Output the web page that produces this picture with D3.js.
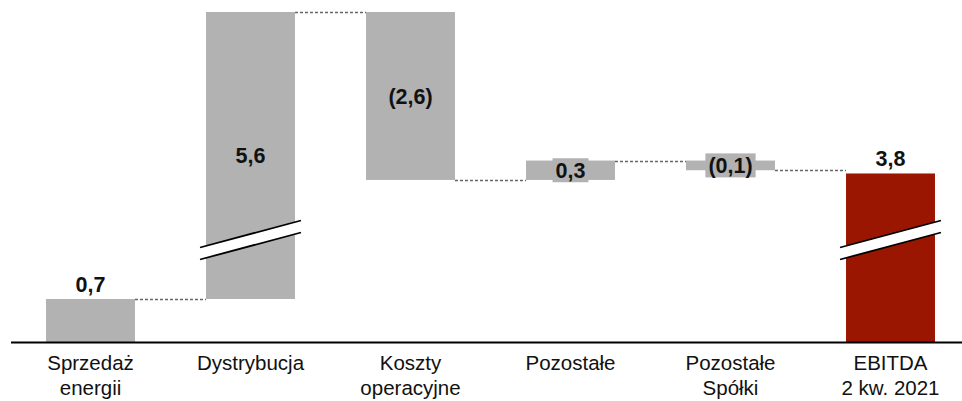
<!DOCTYPE html>
<html>
<head>
<meta charset="utf-8">
<script src="https://cdn.jsdelivr.net/npm/d3@7"></script>
<style>
	body { margin: 0; background: #fff; }
	svg { display: block; font-family: Arial, "Liberation Sans", sans-serif; }
</style>
</head>
<body>
<div id="graphic"></div>
<script>
// chart data
const categories = [["Sprzedaż", "energii"], ["Dystrybucja"], ["Koszty", "operacyjne"], ["Pozostałe"], ["Pozostałe", "Spółki"], ["EBITDA", "2 kw. 2021"]];
const values = [0.7, 5.6, -2.6, 0.3, -0.15, 3.8];
const kinds = ["base", "delta", "delta", "delta", "delta", "total"];
const breaks = [false, true, false, false, false, true];

const width = 962, height = 401;
const axisY = 342;
const grey = "#b2b2b2", red = "#9b1600";

const locale = d3.formatLocale({ decimal: ",", thousands: " ", grouping: [3], currency: ["", ""] });
const f1 = locale.format(".1f");
const fmt = (v) => v < 0 ? "(" + f1(-v) + ")" : f1(v);

// build waterfall rows
let running = 0;
const rows = values.map((v, i) => {
	let start, end;
	if (kinds[i] == "delta") { start = running; end = running + v; running = end; }
	else { start = 0; end = v; running = v; }
	return { cat: categories[i], value: v, kind: kinds[i], brk: breaks[i], start, end, i };
});

// x: band scale, y: broken linear scale
const x = d3.scaleBand()
	.domain(rows.map((d) => d.i))
	.range([10.5, 970.5])
	.paddingInner(0.444)
	.paddingOuter(0.222);

const y = d3.scaleLinear()
	.domain([0, 1.66, 2.77, 6.3])
	.range([axisY, 240, 240, 12]);
const breakY = 240;

const svg = d3.select("#graphic").append("svg")
	.attr("width", width).attr("height", height);

// connectors
svg.append("g").selectAll("line")
	.data(rows.slice(0, -1))
	.join("line")
	.attr("x1", (d) => x(d.i) + x.bandwidth())
	.attr("x2", (d) => x(d.i + 1))
	.attr("y1", (d) => Math.round(y(d.end)) + 0.5)
	.attr("y2", (d) => Math.round(y(d.end)) + 0.5)
	.attr("stroke", "#666")
	.attr("stroke-width", 1.3)
	.attr("stroke-dasharray", "3,2");

// bars
svg.append("g").selectAll("rect")
	.data(rows)
	.join("rect")
	.attr("x", (d) => x(d.i))
	.attr("width", x.bandwidth())
	.attr("y", (d) => y(Math.max(d.start, d.end)))
	.attr("height", (d) => Math.abs(y(d.start) - y(d.end)))
	.attr("fill", (d) => d.kind == "total" ? red : grey);

// axis break markers
const slope = 27 / 101;
rows.filter((d) => d.brk).forEach((d) => {
	const x0 = x(d.i) - 6, x1 = x(d.i) + x.bandwidth() + 6;
	const cx = (x0 + x1) / 2;
	const yy = (xx, off) => breakY + off - (xx - cx) * slope;
	const g = svg.append("g");
	g.append("polygon")
		.attr("points", [[x0, yy(x0, -6)], [x1, yy(x1, -6)], [x1, yy(x1, 6)], [x0, yy(x0, 6)]].map((p) => p.join(",")).join(" "))
		.attr("fill", "#fff");
	[-6, 6].forEach((off) => {
		g.append("line")
			.attr("x1", x0).attr("y1", yy(x0, off))
			.attr("x2", x1).attr("y2", yy(x1, off))
			.attr("stroke", "#000").attr("stroke-width", 1.8);
	});
});

// value labels
const labels = svg.append("g")
	.attr("font-size", "21.5px")
	.attr("font-weight", "bold")
	.attr("text-anchor", "middle")
	.attr("fill", "#111");

rows.forEach((d) => {
	const cx = x(d.i) + x.bandwidth() / 2;
	if (d.kind == "delta") {
		const cy = (y(d.start) + y(d.end)) / 2;
		const bg = labels.append("rect").attr("fill", grey);
		const t = labels.append("text")
			.attr("x", cx).attr("y", cy + 8)
			.text(fmt(d.value));
		const w = t.node().getComputedTextLength() + 6;
		bg.attr("x", cx - w / 2).attr("width", w)
			.attr("y", cy - 12).attr("height", 24);
	} else {
		labels.append("text")
			.attr("x", cx).attr("y", y(d.end) - 7)
			.text(fmt(d.value));
	}
});

// x axis
const xAxis = d3.axisBottom(x).tickSize(0).tickSizeOuter(0).tickFormat("");
const ax = svg.append("g")
	.attr("transform", "translate(0," + axisY + ")")
	.call(xAxis);
ax.select(".domain").attr("stroke", "#000").attr("stroke-width", 1.8);
ax.selectAll(".tick").each(function (i) {
	const t = d3.select(this).select("text")
		.attr("y", null).attr("dy", null)
		.attr("font-size", "20.5px")
		.attr("font-family", "Arial, 'Liberation Sans', sans-serif")
		.attr("fill", "#111");
	categories[i].forEach((line, k) => {
		t.append("tspan").attr("x", 0).attr("y", 28 + k * 24.5).text(line);
	});
});
</script>
</body>
</html>
